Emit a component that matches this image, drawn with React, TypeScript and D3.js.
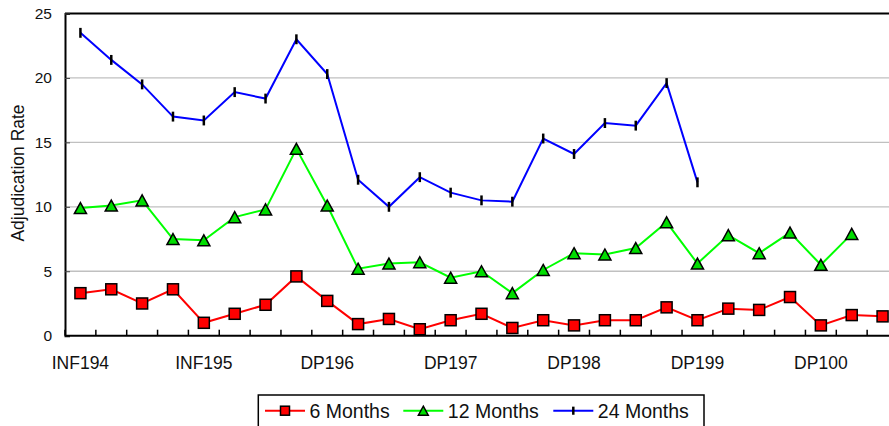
import * as d3 from "d3";
import { useRef, useEffect } from "react";

// Periods: quarters of each programme year, one labelled tick per year
const yearLabels = ["INF194", "INF195", "DP196", "DP197", "DP198", "DP199", "DP100"];
const quartersPerYear = [4, 4, 4, 4, 4, 4, 3];
const categories = yearLabels.flatMap((y, i) =>
  d3.range(quartersPerYear[i]).map((q) => `${y} Q${q + 1}`)
);

const sixMonths = [
  3.3, 3.6, 2.5, 3.6, 1.0, 1.7, 2.4, 4.6, 2.7, 0.9, 1.3, 0.5, 1.2, 1.7, 0.6, 1.2,
  0.8, 1.2, 1.2, 2.2, 1.2, 2.1, 2.0, 3.0, 0.8, 1.6, 1.5,
];
const twelveMonths: (number | null)[] = [
  9.9, 10.1, 10.5, 7.5, 7.4, 9.2, 9.8, 14.5, 10.1, 5.2, 5.6, 5.7, 4.5, 5.0, 3.3, 5.1,
  6.4, 6.3, 6.8, 8.8, 5.6, 7.8, 6.4, 8.0, 5.5, 7.9, null,
];
const twentyFourMonths: (number | null)[] = [
  23.5, 21.4, 19.5, 17.0, 16.7, 18.9, 18.4, 23.0, 20.3, 12.1, 10.0, 12.3, 11.1, 10.5,
  10.4, 15.3, 14.1, 16.5, 16.3, 19.6, 11.9, null, null, null, null, null, null,
];
const yTicks = [0, 5, 10, 15, 20, 25];

const FONT = "'Liberation Sans', Arial, sans-serif";

const Chart = () => {
  const svgRef = useRef<SVGSVGElement | null>(null);
  const width = 889;
  const height = 426;
  const marginLeft = 65;
  const plotRight = 898;
  const marginTop = 13.5;
  const plotBottom = 335.7;

  useEffect(() => {
    if (!svgRef.current) return;
    const svg = d3.select(svgRef.current);
    svg.selectAll("*").remove();

    const x = d3
      .scaleBand()
      .domain(categories)
      .range([marginLeft, plotRight])
      .paddingInner(0)
      .paddingOuter(0);
    const cx = (i: number) => x(categories[i])! + x.bandwidth() / 2;

    const y = d3.scaleLinear().domain([0, 25]).range([plotBottom, marginTop]);

    // Gridlines
    svg
      .append("g")
      .selectAll("line")
      .data(yTicks.filter((t) => t > 0 && t < 25))
      .join("line")
      .attr("x1", marginLeft)
      .attr("x2", plotRight)
      .attr("y1", (d) => y(d))
      .attr("y2", (d) => y(d))
      .attr("stroke", "#c0c0c0")
      .attr("stroke-width", 1.3);

    // Top frame
    svg
      .append("line")
      .attr("x1", marginLeft)
      .attr("x2", plotRight)
      .attr("y1", y(25))
      .attr("y2", y(25))
      .attr("stroke", "#000")
      .attr("stroke-width", 2);

    // Y axis
    const yAxis = svg
      .append("g")
      .attr("transform", `translate(${marginLeft},0)`)
      .call(d3.axisLeft(y).tickValues(yTicks).tickSize(-5).tickPadding(13));
    yAxis.select(".domain").attr("stroke", "#000").attr("stroke-width", 2);
    yAxis.selectAll(".tick line").attr("stroke", "#444").attr("stroke-width", 1);
    yAxis
      .selectAll("text")
      .attr("font-family", FONT)
      .attr("font-size", 15.5)
      .attr("fill", "#111");

    // X axis: ticks at category boundaries, labels once per year
    svg
      .append("line")
      .attr("x1", marginLeft)
      .attr("x2", plotRight)
      .attr("y1", plotBottom)
      .attr("y2", plotBottom)
      .attr("stroke", "#000")
      .attr("stroke-width", 2);
    svg
      .append("g")
      .selectAll("line")
      .data(categories)
      .join("line")
      .attr("x1", (d) => x(d)!)
      .attr("x2", (d) => x(d)!)
      .attr("y1", plotBottom)
      .attr("y2", plotBottom - 6)
      .attr("stroke", "#000")
      .attr("stroke-width", 1.5);
    let idx = 0;
    const labelIdx = quartersPerYear.map((n) => {
      const i = idx;
      idx += n;
      return i;
    });
    svg
      .append("g")
      .selectAll("text")
      .data(yearLabels)
      .join("text")
      .attr("x", (_, i) => cx(labelIdx[i]))
      .attr("y", plotBottom + 33)
      .attr("text-anchor", "middle")
      .attr("font-family", FONT)
      .attr("font-size", 17.5)
      .attr("fill", "#111")
      .text((d) => d);

    // Y label
    svg
      .append("text")
      .attr("transform", `translate(24,173) rotate(-90)`)
      .attr("text-anchor", "middle")
      .attr("font-family", FONT)
      .attr("font-size", 17.5)
      .attr("fill", "#111")
      .text("Adjudication Rate");

    const line = d3
      .line<number | null>()
      .defined((d) => d !== null)
      .x((_, i) => cx(i))
      .y((d) => y(d as number));

    const series = [
      { name: "6 Months", values: sixMonths as (number | null)[], color: "#ff0000", fill: "#ff0000", marker: "square" },
      { name: "12 Months", values: twelveMonths, color: "#00ff00", fill: "#00dd00", marker: "triangle" },
      { name: "24 Months", values: twentyFourMonths, color: "#0000ff", fill: "#0000ff", marker: "tick" },
    ];

    const drawMarker = (
      g: any,
      kind: string,
      fill: string,
      px: number,
      py: number,
      s: number
    ) => {
      if (kind === "square") {
        g.append("rect")
          .attr("x", px - s / 2)
          .attr("y", py - s / 2)
          .attr("width", s)
          .attr("height", s)
          .attr("fill", fill)
          .attr("stroke", "#000")
          .attr("stroke-width", 1.5);
      } else if (kind === "triangle") {
        const h = s / 2;
        g.append("path")
          .attr("d", `M${px},${py - h}L${px + h * 1.1},${py + h}L${px - h * 1.1},${py + h}Z`)
          .attr("fill", fill)
          .attr("stroke", "#000")
          .attr("stroke-width", 1.5)
          .attr("stroke-linejoin", "miter");
      } else {
        g.append("line")
          .attr("x1", px)
          .attr("x2", px)
          .attr("y1", py - s * 0.45)
          .attr("y2", py + s * 0.45)
          .attr("stroke", "#000")
          .attr("stroke-width", 2.5);
      }
    };

    // 24 months drawn first, 6 months on top
    [...series].reverse().forEach((s) => {
      svg
        .append("path")
        .datum(s.values)
        .attr("fill", "none")
        .attr("stroke", s.color)
        .attr("stroke-width", 2)
        .attr("d", line);
      const g = svg.append("g");
      s.values.forEach((v, i) => {
        if (v === null) return;
        drawMarker(g, s.marker, s.fill, cx(i), y(v), 11);
      });
    });

    // Legend
    const legend = svg.append("g");
    legend
      .append("rect")
      .attr("x", 258.3)
      .attr("y", 395)
      .attr("width", 445.7)
      .attr("height", 40)
      .attr("fill", "#fff")
      .attr("stroke", "#000")
      .attr("stroke-width", 1.5);
    const legendX = [265, 403.3, 553.3];
    series.forEach((s, i) => {
      const lg = legend.append("g");
      const ly = 410.7;
      lg.append("line")
        .attr("x1", legendX[i])
        .attr("x2", legendX[i] + 40)
        .attr("y1", ly)
        .attr("y2", ly)
        .attr("stroke", s.color)
        .attr("stroke-width", 2);
      drawMarker(lg, s.marker, s.fill, legendX[i] + 20, ly, 9);
      lg.append("text")
        .attr("x", legendX[i] + 44.5)
        .attr("y", 417.5)
        .attr("font-family", FONT)
        .attr("font-size", 19.5)
        .attr("fill", "#111")
        .text(s.name);
    });
  }, []);

  return (
    <svg
      ref={svgRef}
      width={width}
      height={height}
      style={{ position: "absolute", left: 0, top: 0, background: "#fff" }}
    ></svg>
  );
};

export default function App() {
  return <Chart />;
}
